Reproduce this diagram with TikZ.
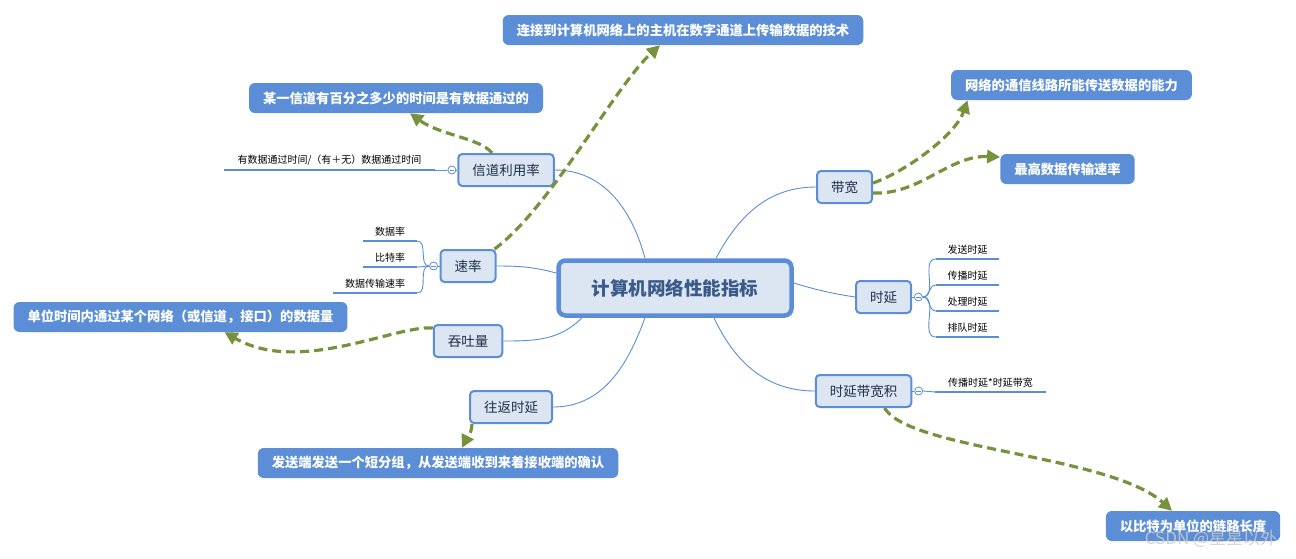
\documentclass[tikz,border=0pt]{standalone}
\usepackage{fontspec}
\setmainfont{Noto Sans CJK SC}
\usetikzlibrary{positioning,arrows.meta}
\definecolor{lineblue}{HTML}{5B8ED6}
\definecolor{topicfill}{HTML}{DCE6F2}
\definecolor{topictext}{HTML}{1E2D4A}
\definecolor{roottext}{HTML}{3A5A8A}
\definecolor{hintgreen}{HTML}{76923C}

\begin{document}
\begin{tikzpicture}[x=1pt,y=-1pt,
topic/.style={draw=lineblue,line width=2pt,fill=topicfill,rounded corners=4pt,
  minimum height=32pt,inner xsep=14pt,text=topictext,font=\fontsize{13.5}{16}\selectfont},
root/.style={topic,line width=4.5pt,minimum width=233pt,minimum height=55pt,
  rounded corners=7pt,text=roottext,font=\bfseries\fontsize{18.5}{20}\selectfont},
note/.style={fill=lineblue,rounded corners=6pt,minimum height=30pt,inner xsep=14pt,
  text=white,font=\bfseries\fontsize{13.3}{15}\selectfont},
leaf/.style={anchor=south,inner xsep=0pt,inner ysep=4.5pt,minimum width=#1,
  text=black,font=\fontsize{10}{12}\selectfont},
toggle/.style={circle,draw=lineblue,fill=white,line width=0.8pt,minimum size=8pt,inner sep=0pt,
  path picture={\draw[lineblue,line width=0.8pt]
    ([xshift=-2.2pt]path picture bounding box.center) -- ([xshift=2.2pt]path picture bounding box.center);}},
link/.style={lineblue,line width=0.9pt},
leafline/.style={lineblue,line width=2.8pt},
hint/.style={hintgreen,line width=3.2pt,dash pattern=on 9pt off 5pt,
  -{Triangle[length=13pt,width=13pt]}},
wmark/.style={text=gray!40,opacity=0.85,font=\fontsize{17}{19}\selectfont}]

\path[fill=white] (0,0) rectangle (1296,558);
\useasboundingbox (0,0) rectangle (1296,558);

\node[root] (root) at (675,288) {计算机网络性能指标};

\node[topic] (util) at (506,170) {信道利用率};
\node[topic] (rate) at (468,266) {速率};
\node[topic] (tput) at (468,341) {吞吐量};
\node[topic] (rtt) at (511,407) {往返时延};
\node[topic] (bw) at (844.5,187) {带宽};
\node[topic] (delay) at (883.5,297) {时延};
\node[topic] (dbp) at (863.5,391) {时延带宽积};

\node[note] (tech) at (683,30) {连接到计算机网络上的主机在数字通道上传输数据的技术};
\node[note] (chan) at (396,98) {某一信道有百分之多少的时间是有数据通过的};
\node[note] (wire) at (1071.5,85) {网络的通信线路所能传送数据的能力};
\node[note] (maxrate) at (1067.5,169) {最高数据传输速率};
\node[note] (thru) at (180.5,317) {单位时间内通过某个网络（或信道，接口）的数据量};
\node[note] (ack) at (438,463) {发送端发送一个短分组，从发送端收到来着接收端的确认};
\node[note] (linklen) at (1193,526) {以比特为单位的链路长度};

\draw[link] (util.east) to[out=0,in=105] ([xshift=-30pt]root.north);
\draw[link] (rate.east) to[out=0,in=165] ([yshift=15pt]root.west);
\draw[link] (tput.east) to[out=0,in=-135] ([xshift=-93pt]root.south);
\draw[link] (rtt.east) to[out=0,in=-110] ([xshift=-30pt]root.south);
\draw[link] (bw.west) to[out=180,in=62] ([xshift=41pt]root.north);
\draw[link] (delay.west) to[bend left=4] ([yshift=5pt]root.east);
\draw[link] (dbp.west) to[out=180,in=-65] ([xshift=39pt]root.south);

\node[toggle,left=1pt of util] (utog) {};
\node[leaf=211pt] (uleaf) at (329.5,170) {有数据通过时间/（有＋无）数据通过时间};
\draw[leafline] (uleaf.south west) -- (uleaf.south east);
\draw[link] (utog) -- (util);
\draw[link] (utog.west) -- (uleaf.south east);

\node[toggle,left=1.5pt of rate] (rtog) {};
\draw[link] (rtog) -- (rate);
\foreach \n/\x/\y/\w/\txt in {drate/390/241/54/数据率,brate/390/267/54/比特率,trate/375/293/84/数据传输速率}{
  \node[leaf=\w pt] (\n) at (\x,\y) {\txt};
  \draw[leafline] (\n.south west) -- (\n.south east);
  \draw[link] (rtog.west) to[out=180,in=0] (\n.south east);
}

\node[toggle,right=2pt of delay] (dtog) {};
\draw[link] (delay) -- (dtog);
\foreach \n/\txt [count=\i] in {send/发送时延,prop/传播时延,proc/处理时延,queue/排队时延}{
  \node[leaf=63pt] (\n) at (967.5,233+26*\i) {\txt};
  \draw[leafline] (\n.south west) -- (\n.south east);
  \draw[link] (dtog.east) to[out=0,in=180] (\n.south west);
}

\node[toggle,right=2pt of dbp] (btog) {};
\node[leaf=110pt] (bleaf) at (990.5,392) {传播时延*时延带宽};
\draw[leafline] (bleaf.south west) -- (bleaf.south east);
\draw[link] (dbp) -- (btog);
\draw[link] (btog.east) -- (bleaf.south west);

\draw[hint] ([xshift=-2pt]rate.north east) .. controls +(55,-40) and +(-45,41) .. ([xshift=-23pt]tech.south);
\draw[hint] ([xshift=-14pt]util.north) .. controls +(-12,-15) and +(30,22) .. ([xshift=14pt]chan.south);
\draw[hint] ([yshift=4pt]bw.east) .. controls +(32,-11) and +(-12,35) .. ([xshift=-104pt]wire.south);
\draw[hint] ([yshift=-6pt]bw.east) .. controls +(47,2) and +(-51,-2) .. ([yshift=12pt]maxrate.west);
\draw[hint] ([yshift=13pt]tput.west) .. controls +(-38,-3) and +(75,43) .. ([xshift=44pt]thru.south);
\draw[hint] ([xshift=3pt]rtt.south west) .. controls +(-1,12) and +(5,-10) .. ([xshift=24pt]ack.north);
\draw[hint] ([xshift=21pt]dbp.south) .. controls +(25,42) and +(-62,-56) .. ([xshift=-21pt]linklen.north);

\node[wmark] (wm) at (1211,539) {CSDN @星星以外};
\end{tikzpicture}
\end{document}
